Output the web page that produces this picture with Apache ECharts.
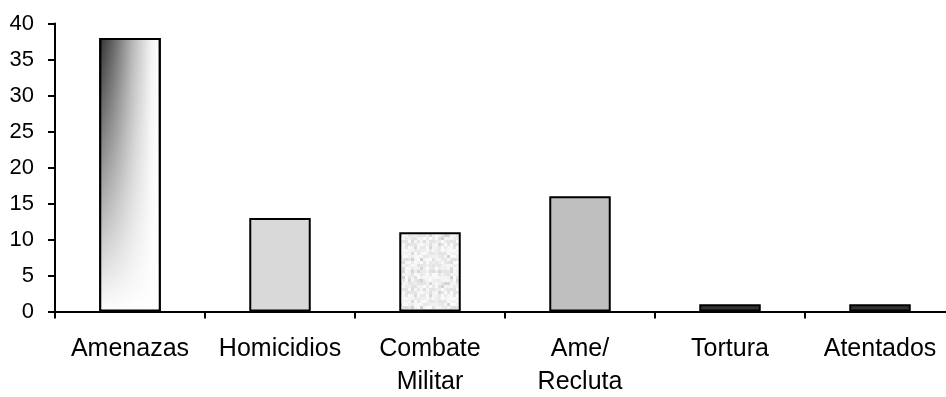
<!DOCTYPE html>
<html>
<head>
<meta charset="utf-8">
<script src="https://cdn.jsdelivr.net/npm/echarts@6/dist/echarts.min.js"></script>
<style>
  html, body { margin: 0; padding: 0; background: #fff; }
  #chart { width: 946px; height: 397px; }
</style>
</head>
<body>
<div id="chart"></div>
<script>
// Category names (line breaks as printed under the axis)
const categories = ['Amenazas', 'Homicidios', 'Combate\nMilitar', 'Ame/\nRecluta', 'Tortura', 'Atentados'];
// Number of cases per category
const counts = [38, 13, 11, 16, 1, 1];
// Value axis range
const yMin = 0;
const yMax = 40;
const yStep = 5;

const FONT = '"Liberation Sans", Arial, sans-serif';

// Speckled light texture (granite-like), built from a small deterministic hash
function makeGraniteTexture() {
  const size = 48, cell = 3;
  const c = document.createElement('canvas');
  c.width = size; c.height = size;
  const ctx = c.getContext('2d');
  let s = 12345;
  const next = () => { s = (s * 1103515245 + 12345) & 0x7fffffff; return s / 0x7fffffff; };
  for (let y = 0; y < size; y += cell) {
    for (let x = 0; x < size; x += cell) {
      const r = next();
      let g;
      if (r < 0.55) g = 240 + Math.floor(next() * 12);
      else if (r < 0.85) g = 226 + Math.floor(next() * 12);
      else g = 208 + Math.floor(next() * 16);
      ctx.fillStyle = 'rgb(' + g + ',' + g + ',' + g + ')';
      ctx.fillRect(x, y, cell, cell);
    }
  }
  return c;
}

// Horizontal dark-to-white ramp for the first bar
const cornerRamp = new echarts.graphic.LinearGradient(0, 0, 1, 0, [
  { offset: 0, color: '#2f2f2f' },
  { offset: 0.25, color: '#6a6a6a' },
  { offset: 0.55, color: '#b8b8b8' },
  { offset: 0.85, color: '#f4f4f4' },
  { offset: 1, color: '#ffffff' }
]);
// Vertical wash that fades the ramp out toward the base
const baseWash = new echarts.graphic.LinearGradient(0, 0, 0, 1, [
  { offset: 0, color: 'rgba(255,255,255,0)' },
  { offset: 1, color: 'rgba(255,255,255,1)' }
]);

const fills = [
  cornerRamp,
  '#d9d9d9',
  { image: makeGraniteTexture(), repeat: 'repeat' },
  '#bfbfbf',
  '#333333',
  '#333333'
];

const chart = echarts.init(document.getElementById('chart'), null, { renderer: 'canvas' });

chart.setOption({
  animation: false,
  backgroundColor: '#ffffff',
  // plot band runs slightly past the right edge of the page
  grid: {
    left: 55, width: 900, top: 23.5, height: 288,
    containLabel: false,
    outerBoundsMode: 'none'
  },
  xAxis: {
    type: 'category',
    data: categories,
    boundaryGap: true,
    axisLine: { show: true, lineStyle: { color: '#000', width: 2 } },
    axisTick: { show: true, alignWithLabel: false, length: 7, lineStyle: { color: '#000', width: 2 } },
    axisLabel: {
      interval: 0,
      color: '#000',
      fontFamily: FONT,
      fontSize: 25,
      lineHeight: 33,
      margin: 21
    },
    splitLine: { show: false }
  },
  yAxis: {
    type: 'value',
    min: yMin,
    max: yMax,
    interval: yStep,
    axisLine: { show: true, lineStyle: { color: '#000', width: 2 } },
    axisTick: { show: true, length: 7, lineStyle: { color: '#000', width: 2 } },
    axisLabel: {
      color: '#000',
      fontFamily: FONT,
      fontSize: 22,
      margin: 21
    },
    splitLine: { show: false }
  },
  series: [
    {
      type: 'bar',
      barWidth: '41%',
      barGap: '-100%',
      data: counts.map((v, i) => ({
        value: v,
        itemStyle: { color: fills[i], borderColor: '#000', borderWidth: 2 }
      }))
    },
    {
      // fade overlay on the first bar only
      type: 'bar',
      barWidth: '41%',
      barGap: '-100%',
      silent: true,
      data: counts.map((v, i) => (i === 0 ? v : '-')),
      itemStyle: { color: baseWash, borderColor: '#000', borderWidth: 2 }
    }
  ]
});
</script>
</body>
</html>
